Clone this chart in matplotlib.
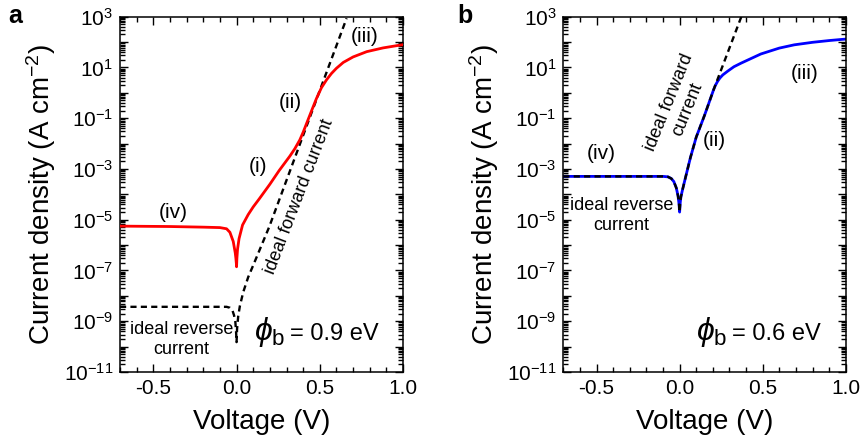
import math
import matplotlib
matplotlib.use("Agg")
import matplotlib.pyplot as plt
from matplotlib.ticker import LogLocator, MultipleLocator, FuncFormatter, NullFormatter

plt.rcParams['font.family'] = ['Liberation Sans', 'DejaVu Sans']
plt.rcParams['mathtext.fontset'] = 'custom'
plt.rcParams['mathtext.rm'] = 'Liberation Sans'
plt.rcParams['mathtext.it'] = 'Liberation Sans:italic'
plt.rcParams['mathtext.bf'] = 'Liberation Sans:bold'

# panel a (phi_b = 0.9 eV)
v_a = [-0.7, -0.4, -0.2, -0.1, -0.06, -0.04, -0.02, -0.008, -0.004, -0.001, 0.0,
       0.002, 0.006, 0.015, 0.036, 0.07, 0.1, 0.136, 0.2, 0.256, 0.32, 0.35, 0.38,
       0.40, 0.421, 0.451, 0.48, 0.51, 0.541, 0.57, 0.6, 0.641, 0.7, 0.782, 0.88,
       0.982, 1.0]
j_a = [5.6e-6, 5.4e-6, 5.1e-6, 4.9e-6, 4.4e-6, 3.2e-6, 1.4e-6, 5e-7, 3e-7, 1.8e-7, 1.4e-7,
       3e-7, 7e-7, 1.8e-6, 6.2e-6, 1.6e-5, 3.2e-5, 6.6e-5, 2.5e-4, 8.7e-4, 3.2e-3, 6.3e-3, 1.4e-2,
       2.8e-2, 6.3e-2, 0.20, 0.60, 1.6, 3.3, 5.8, 9.3, 15.8, 26, 42, 59,
       76, 79]

v_a_ideal = [-0.7, -0.06, -0.04, -0.025, -0.015, -0.007, -0.002, 0.0, 0.003, 0.01,
             0.02, 0.04, 0.07, 0.1, 0.196, 0.661]
j_a_ideal = [3.7e-9, 3.7e-9, 3.4e-9, 2.7e-9, 1.7e-9, 9e-10, 3e-10, 1.5e-10, 5e-10, 1.6e-9,
             4e-9, 1.4e-8, 5.5e-8, 1.6e-7, 5.2e-6, 870]

# panel b (phi_b = 0.6 eV)
v_b = [-0.7, -0.1, -0.07, -0.05, -0.035, -0.02, -0.01, -0.004, 0.0, 0.004, 0.008,
       0.015, 0.035, 0.065, 0.1, 0.15, 0.204, 0.215, 0.228, 0.242, 0.26, 0.29, 0.327,
       0.37, 0.42, 0.489, 0.6, 0.69, 0.8, 0.9, 0.973, 1.0]
j_b = [5.1e-4, 5.1e-4, 4.9e-4, 4.2e-4, 3.2e-4, 1.8e-4, 9e-5, 4.5e-5, 2e-5, 5e-5, 8e-5,
       1.3e-4, 4.5e-4, 2.8e-3, 1.8e-2, 0.13, 1.3, 1.95, 2.8, 3.8, 5.1, 7.2, 10.7,
       14.8, 21, 34, 58, 78, 98, 115, 127, 131]

v_b_ideal = [-0.7, -0.1, -0.07, -0.05, -0.035, -0.02, -0.01, -0.004, 0.0, 0.004, 0.008,
             0.015, 0.035, 0.065, 0.1, 0.15, 0.204, 0.375]
j_b_ideal = [5.1e-4, 5.1e-4, 4.9e-4, 4.2e-4, 3.2e-4, 1.8e-4, 9e-5, 4.5e-5, 2e-5, 5e-5, 8e-5,
             1.3e-4, 4.5e-4, 2.8e-3, 1.8e-2, 0.13, 1.3, 1.15e3]


def log_label(y, pos):
    e = int(round(math.log10(y)))
    if e % 2 == 0:
        return ''
    return r'$10^{%d}$' % e


def style_axes(ax):
    ax.set_yscale('log')
    ax.set_xlim(-0.7, 1.0)
    ax.set_ylim(1e-11, 1e3)
    ax.xaxis.set_major_locator(MultipleLocator(0.5))
    ax.xaxis.set_minor_locator(MultipleLocator(0.1))
    ax.xaxis.set_major_formatter(FuncFormatter(lambda x, p: '%.1f' % x))
    ax.yaxis.set_major_locator(LogLocator(base=10, subs=(1.0,), numticks=30))
    ax.yaxis.set_minor_locator(LogLocator(base=10, subs=range(2, 10), numticks=30))
    ax.yaxis.set_major_formatter(FuncFormatter(log_label))
    ax.yaxis.set_minor_formatter(NullFormatter())
    ax.tick_params(which='both', direction='in', top=True, right=True, width=1.0)
    ax.tick_params(which='major', length=6, labelsize=15, pad=5)
    ax.tick_params(which='minor', length=3.5)
    for s in ax.spines.values():
        s.set_linewidth(1.1)
    ax.set_xlabel('Voltage (V)', fontsize=20, labelpad=8)
    ax.set_ylabel(r'Current density (A cm$^{-2}$)', fontsize=20, labelpad=4)


def barrier_label(ax, x_eq, y_base, text):
    # big phi_b, then the value text
    ax.text(x_eq - 0.03, y_base, r'$\phi_{\mathrm{b}}$', fontsize=23, ha='right', va='baseline')
    ax.text(x_eq, y_base, text, fontsize=17, ha='left', va='baseline')


fig = plt.figure(figsize=(8.66, 4.47), dpi=100)
ax1 = fig.add_axes([0.1386, 0.1678, 0.3268, 0.7948])
ax2 = fig.add_axes([0.6505, 0.1678, 0.3261, 0.7948])

dash = (0, (2.6, 1.8))

ax1.plot(v_a, j_a, color='red', lw=2.0, zorder=3)
ax1.plot(v_a_ideal, j_a_ideal, color='black', lw=1.7, linestyle=dash, zorder=2)
style_axes(ax1)

ax2.plot(v_b, j_b, color='blue', lw=2.0, zorder=2)
ax2.plot(v_b_ideal, j_b_ideal, color='black', lw=1.7, linestyle=dash, zorder=3)
style_axes(ax2)

# annotations panel a
ax1.text(-0.38, 2.0e-5, '(iv)', fontsize=15, ha='center', va='center')
ax1.text(0.13, 1.2e-3, '(i)', fontsize=15, ha='center', va='center')
ax1.text(0.32, 4.0e-1, '(ii)', fontsize=15, ha='center', va='center')
ax1.text(0.77, 1.7e2, '(iii)', fontsize=15, ha='center', va='center')
ax1.text(0.375, 8.0e-5, 'ideal forward current', fontsize=13, rotation=69,
         ha='center', va='center', rotation_mode='anchor')
ax1.text(-0.33, 1.9e-10, 'ideal reverse\ncurrent', fontsize=13, ha='center',
         va='center', linespacing=1.25)
barrier_label(ax1, 0.32, 1.8e-10, '= 0.9 eV')

# annotations panel b
ax2.text(-0.47, 4.0e-3, '(iv)', fontsize=15, ha='center', va='center')
ax2.text(0.21, 1.3e-2, '(ii)', fontsize=15, ha='center', va='center')
ax2.text(0.75, 6.0, '(iii)', fontsize=15, ha='center', va='center')
ax2.text(-0.005, 0.3, 'ideal forward\ncurrent', fontsize=13, rotation=68,
         ha='center', va='center', rotation_mode='anchor', linespacing=1.2)
ax2.text(-0.35, 1.5e-5, 'ideal reverse\ncurrent', fontsize=13, ha='center',
         va='center', linespacing=1.25)
barrier_label(ax2, 0.318, 1.8e-10, '= 0.6 eV')

fig.text(0.017, 0.965, 'a', fontsize=18, fontweight='bold', ha='center', va='center')
fig.text(0.537, 0.965, 'b', fontsize=18, fontweight='bold', ha='center', va='center')

fig.savefig('out.png', dpi=100)
